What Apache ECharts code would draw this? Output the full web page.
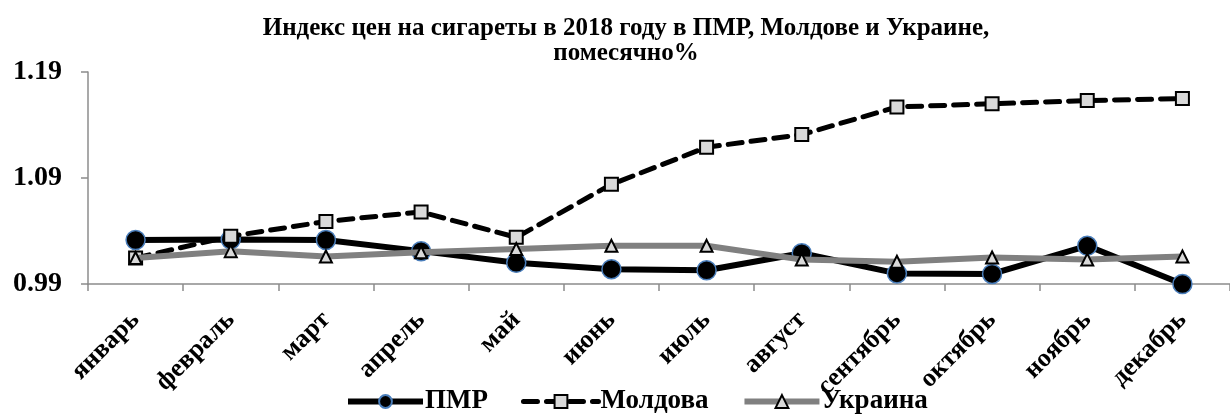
<!DOCTYPE html>
<html>
<head>
<meta charset="utf-8">
<script src="https://cdn.jsdelivr.net/npm/echarts@6/dist/echarts.min.js"></script>
<style>
  html, body { margin: 0; padding: 0; background: #fff; }
  #chart { width: 1230px; height: 414px; }
</style>
</head>
<body>
<div id="chart"></div>
<script>
// months
const months = ['январь', 'февраль', 'март', 'апрель', 'май', 'июнь',
  'июль', 'август', 'сентябрь', 'октябрь', 'ноябрь', 'декабрь'];

// index values
const pmr = [1.0315, 1.032, 1.0315, 1.021, 1.010, 1.004, 1.003, 1.019, 1.000, 0.9995, 1.026, 0.990];
const moldova = [1.0145, 1.035, 1.049, 1.058, 1.034, 1.084, 1.119, 1.131, 1.157, 1.160, 1.163, 1.165];
const ukraine = [1.0145, 1.021, 1.016, 1.020, 1.023, 1.026, 1.026, 1.013, 1.011, 1.015, 1.013, 1.016];

const yMin = 0.99;
const yMax = 1.19;
const yStep = 0.1;

const font = '"Liberation Serif", "Times New Roman", serif';

const chart = echarts.init(document.getElementById('chart'), null, { renderer: 'canvas' });

chart.setOption({
  animation: false,
  title: {
    text: 'Индекс цен на сигареты в 2018 году в ПМР, Молдове и Украине,\nпомесячно%',
    left: 621,
    textAlign: 'center',
    top: 11,
    textStyle: {
      fontFamily: font,
      fontWeight: 'bold',
      fontSize: 25,
      lineHeight: 25,
      color: '#000'
    }
  },
  legend: {
    bottom: -6,
    left: 340,
    itemWidth: 75,
    itemHeight: 16,
    itemGap: 33,
    textStyle: {
      fontFamily: font,
      fontWeight: 'bold',
      fontSize: 27,
      color: '#000',
      padding: [0, 0, 0, -3]
    },
    data: [
      { name: 'ПМР', lineStyle: { width: 6 } },
      { name: 'Молдова', lineStyle: { width: 5 } },
      { name: 'Украина', lineStyle: { width: 6 } }
    ]
  },
  grid: {
    left: 88,
    right: 0,
    top: 72,
    bottom: 130
  },
  xAxis: {
    type: 'category',
    data: months,
    boundaryGap: true,
    axisLine: { lineStyle: { color: '#8c8c8c', width: 1.5 } },
    axisTick: { show: true, length: 7, lineStyle: { color: '#8c8c8c', width: 1.5 } },
    axisLabel: {
      rotate: 45,
      interval: 0,
      margin: 32,
      fontFamily: font,
      fontWeight: 'bold',
      fontSize: 26,
      color: '#000'
    }
  },
  yAxis: {
    type: 'value',
    min: yMin,
    max: yMax,
    interval: yStep,
    splitLine: { show: false },
    axisLine: { show: true, lineStyle: { color: '#8c8c8c', width: 1.5 } },
    axisTick: { show: true, length: 7, lineStyle: { color: '#8c8c8c', width: 1.5 } },
    axisLabel: {
      margin: 26,
      fontFamily: font,
      fontWeight: 'bold',
      fontSize: 28,
      color: '#000',
      formatter: v => v.toFixed(2)
    }
  },
  series: [
    {
      name: 'ПМР',
      type: 'line',
      data: pmr,
      symbol: 'circle',
      symbolSize: 19,
      lineStyle: { color: '#000', width: 6 },
      itemStyle: { color: '#000', borderColor: '#4a7ebb', borderWidth: 1.5 },
      z: 2
    },
    {
      name: 'Молдова',
      type: 'line',
      data: moldova,
      symbol: 'rect',
      symbolSize: 13,
      lineStyle: { color: '#000', width: 5, type: [14, 9], cap: 'round' },
      itemStyle: { color: '#d9d9d9', borderColor: '#000', borderWidth: 2 },
      z: 3
    },
    {
      name: 'Украина',
      type: 'line',
      data: ukraine,
      symbol: 'triangle',
      symbolSize: 12,
      lineStyle: { color: '#808080', width: 6 },
      itemStyle: { color: '#d9d9d9', borderColor: '#000', borderWidth: 2 },
      z: 4
    }
  ]
});
</script>
</body>
</html>
